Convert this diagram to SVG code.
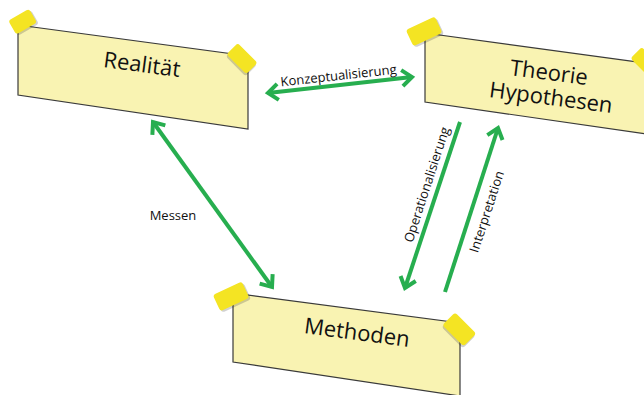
<svg xmlns="http://www.w3.org/2000/svg" width="644" height="395" viewBox="0 0 644 395">
<style>
.note{fill:#f9f3b2;stroke:#3a3a3a;stroke-width:1.2}
.tape{fill:#f4e423}
.tshadow{fill:#000;opacity:0.18}
.title{font-family:"Open Sans","Noto Sans",sans-serif;font-size:22px;fill:#111;text-anchor:middle}
.lbl{font-family:"Open Sans","Noto Sans",sans-serif;font-size:13px;fill:#111;text-anchor:middle}
.arr{stroke:#27ae4f;stroke-width:4;fill:none}
</style>
<defs>
<marker id="head" markerUnits="userSpaceOnUse" markerWidth="24" markerHeight="24" viewBox="-14 -12 24 24" refX="0" refY="0" orient="auto-start-reverse">
<path d="M-10,-8 L0,0 L-10,8" fill="none" stroke="#27ae4f" stroke-width="4"/>
</marker>
</defs>
<rect width="644" height="395" fill="#fff"/>
<g id="realitaet">
<polygon class="note" points="18,25 248,56 248,129 18,95"/>
<g transform="translate(24,22) rotate(-30)"><rect class="tshadow" x="-12" y="-7" width="24" height="16" rx="3"/><rect class="tape" x="-13" y="-9" width="24" height="16" rx="3"/></g>
<g transform="translate(242,60) rotate(45)"><rect class="tshadow" x="-14" y="-7" width="28" height="16" rx="3"/><rect class="tape" x="-15" y="-9" width="28" height="16" rx="3"/></g>
<text class="title" transform="translate(141,72) rotate(7.5)">Realität</text>
</g>
<g id="theorie">
<polygon class="note" points="425,33 660,65 660,136 425,102"/>
<g transform="translate(425,31) rotate(-25)"><rect class="tshadow" x="-16" y="-7" width="32" height="18" rx="3"/><rect class="tape" x="-17" y="-9" width="32" height="18" rx="3"/></g>
<g transform="translate(646,64) rotate(45)"><rect class="tape" x="-15" y="-9" width="28" height="16" rx="3"/></g>
<text class="title" transform="translate(548,80) rotate(7.5)">Theorie</text>
<text class="title" transform="translate(550,105) rotate(7.5)">Hypothesen</text>
</g>
<g id="methoden">
<polygon class="note" points="233,293 460,323 460,396 233,362"/>
<g transform="translate(232,296) rotate(-25)"><rect class="tshadow" x="-16" y="-7" width="32" height="18" rx="3"/><rect class="tape" x="-17" y="-9" width="32" height="18" rx="3"/></g>
<g transform="translate(460,330) rotate(45)"><rect class="tshadow" x="-15" y="-7" width="30" height="18" rx="3"/><rect class="tape" x="-16" y="-9" width="30" height="18" rx="3"/></g>
<text class="title" transform="translate(356,340) rotate(7.5)">Methoden</text>
</g>
<g id="connectors">
<line class="arr" x1="268" y1="93" x2="412" y2="77" marker-start="url(#head)" marker-end="url(#head)"/>
<line class="arr" x1="153" y1="122" x2="272" y2="287" marker-start="url(#head)" marker-end="url(#head)"/>
<line class="arr" x1="460" y1="122" x2="405" y2="288" marker-end="url(#head)"/>
<line class="arr" x1="445" y1="292" x2="498" y2="128" marker-end="url(#head)"/>
<text class="lbl" transform="translate(339,80) rotate(-6.3)">Konzeptualisierung</text>
<text class="lbl" x="173" y="220">Messen</text>
<text class="lbl" transform="translate(431,186) rotate(-72)">Operationalisierung</text>
<text class="lbl" transform="translate(491,213) rotate(-72)">Interpretation</text>
</g>
</svg>
